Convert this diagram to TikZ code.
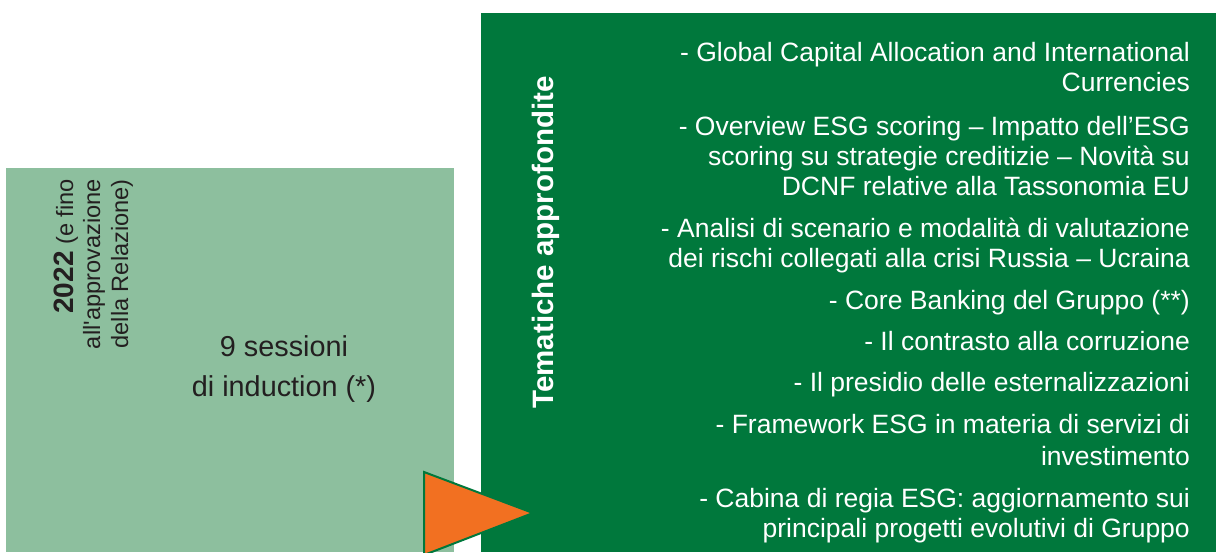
\documentclass[tikz,border=0pt]{standalone}
\usepackage{fontspec}
\setmainfont{Liberation Sans}
\definecolor{lightgreen}{RGB}{141,191,158}
\definecolor{darkgreen}{RGB}{0,120,60}
\definecolor{orangetri}{RGB}{242,112,33}
\definecolor{textgray}{RGB}{35,31,32}
\begin{document}
\begin{tikzpicture}[x=1pt,y=1pt,
  item/.style={anchor=base east, inner sep=0pt, text=white, font=\fontsize{26.5}{31}\selectfont},
  vline/.style={rotate=90, anchor=base east, inner sep=0pt, text=textgray, font=\fontsize{23.6}{28}\selectfont},
  sess/.style={anchor=base, inner sep=0pt, text=textgray, font=\fontsize{28.8}{40}\selectfont},
  title/.style={rotate=90, anchor=base, inner sep=0pt, text=white, font=\fontsize{29.5}{30}\selectfont\bfseries}]
\useasboundingbox (0,0) rectangle (1216,552);
% boxes
\fill[lightgreen] (6,0) rectangle (454,384);
\fill[darkgreen] (481,0) rectangle (1216,539);
% triangle
\draw[darkgreen, line width=2pt, line join=miter, fill=orangetri] (424,-3) -- (424,80) -- (533,39) -- cycle;
% left box texts
\node[vline] (l1) at (73,373) {{\fontsize{28}{28}\selectfont\bfseries 2022} (e fino};
\node[vline] (l2) at (100,373) {all\textquotesingle approvazione};
\node[vline] (l3) at (128,373) {della Relazione)};
\node[sess] (s1) at (284,195) {9 sessioni};
\node[sess] (s2) at (284,155) {di induction (*)};
% title
\node[title] (t) at (553,309.5) {Tematiche approfondite};
% items
\node[item] (a1) at (1190,490.5) {- Global Capital Allocation and International};
\node[item] (a2) at (1190,460.5) {Currencies};
\node[item] (b1) at (1190,416.5) {- Overview ESG scoring – Impatto dell’ESG};
\node[item] (b2) at (1190,386.5) {scoring su strategie creditizie – Novità su};
\node[item] (b3) at (1190,356.5) {DCNF relative alla Tassonomia EU};
\node[item] (c1) at (1190,314.5) {- Analisi di scenario e modalità di valutazione};
\node[item] (c2) at (1190,284.5) {dei rischi collegati alla crisi Russia – Ucraina};
\node[item] (d1) at (1190,242.5) {- Core Banking del Gruppo (**)};
\node[item] (e1) at (1190,201.5) {- Il contrasto alla corruzione};
\node[item] (f1) at (1190,160.5) {- Il presidio delle esternalizzazioni};
\node[item] (g1) at (1190,118.5) {- Framework ESG in materia di servizi di};
\node[item] (g2) at (1190,86.5) {investimento};
\node[item] (h1) at (1190,44.5) {- Cabina di regia ESG: aggiornamento sui};
\node[item] (h2) at (1190,14.5) {principali progetti evolutivi di Gruppo};
\end{tikzpicture}
\end{document}
